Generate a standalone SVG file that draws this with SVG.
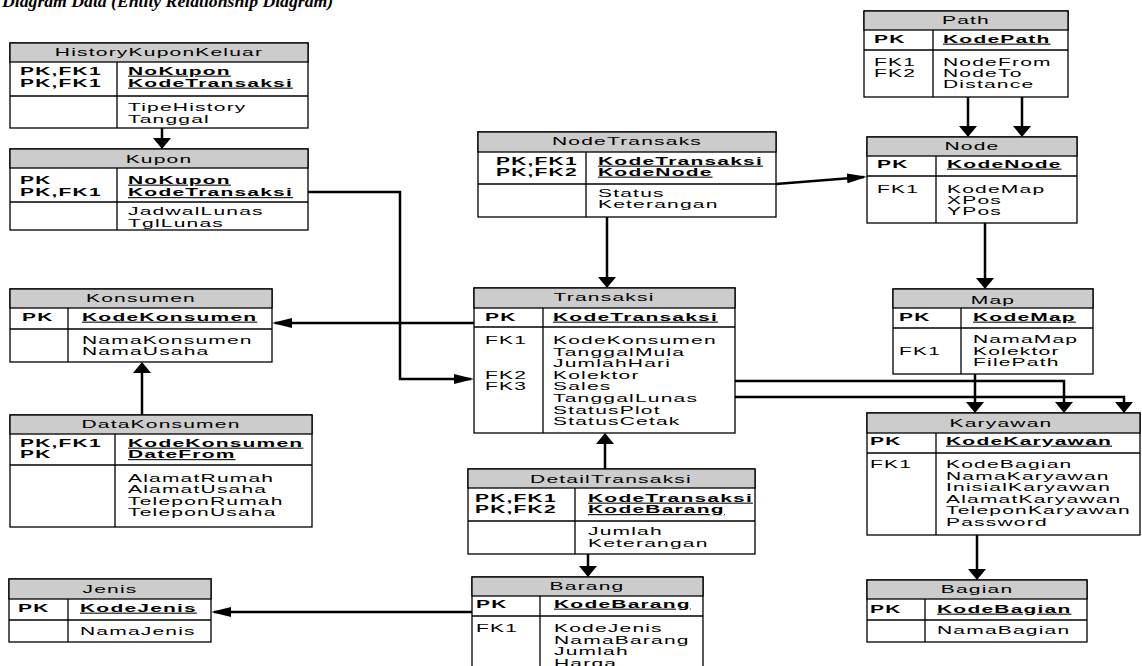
<svg xmlns="http://www.w3.org/2000/svg" width="1142" height="666" viewBox="0 0 1142 666">
<style>
.bx{fill:#fff;stroke:#000;stroke-width:1.3}
.hd{fill:#cccccc;stroke:#000;stroke-width:1.3}
.ln{stroke:#000;stroke-width:1.3;fill:none}
.t{font-family:"Liberation Sans",Arial,sans-serif;font-size:10.5px;letter-spacing:0.6px;fill:#000}
.b{font-weight:bold}
.u{font-weight:bold;text-decoration:underline}
.c{text-anchor:middle}
.cn{fill:none;stroke:#000;stroke-width:2.5}
.cv{marker-end:url(#av)}
.ch{marker-end:url(#ah)}
.title{font-family:"Liberation Serif","Times New Roman",serif;font-weight:bold;font-style:italic;font-size:17.7px;fill:#000}
</style>
<defs>
<marker id="av" markerUnits="userSpaceOnUse" markerWidth="11" markerHeight="18" refX="8" refY="9" orient="auto"><path d="M0,0 L11,9 L0,18 z" fill="#000"/></marker>
<marker id="ah" markerUnits="userSpaceOnUse" markerWidth="20" markerHeight="10" refX="17" refY="5" orient="auto"><path d="M0,0 L20,5 L0,10 z" fill="#000"/></marker>
</defs>
<rect width="1142" height="666" fill="#fff"/>
<text class="title" x="2" y="7">Diagram Data (Entity Relationship Diagram)</text>

<g id="connectors">
<path class="cn cv" d="M162,128 V146"/>
<path class="cn ch" d="M308,192 H400 V379 H471"/>
<path class="cn ch" d="M474,323 H275"/>
<path class="cn cv" d="M142,415 V365"/>
<path class="cn cv" d="M607,217 V285"/>
<path class="cn ch" d="M776,184 L864,177"/>
<path class="cn cv" d="M968,97 V134"/>
<path class="cn cv" d="M1022,97 V134"/>
<path class="cn cv" d="M985,223 V286"/>
<path class="cn cv" d="M975,374 V410"/>
<path class="cn cv" d="M735,381 H1064 V410"/>
<path class="cn cv" d="M735,397 H1124 V410"/>
<path class="cn cv" d="M977,535 V577"/>
<path class="cn cv" d="M605,469 V436"/>
<path class="cn cv" d="M588,554 V574"/>
<path class="cn ch" d="M472,612 H214"/>
</g>

<g id="HistoryKuponKeluar">
<rect class="bx" x="10" y="43" width="298" height="85"/>
<rect class="hd" x="10" y="43" width="298" height="19"/>
<line class="ln" x1="10" y1="96" x2="308" y2="96"/>
<line class="ln" x1="117" y1="62" x2="117" y2="128"/>
<text class="t c" transform="matrix(2 0 0 1 159 56)">HistoryKuponKeluar</text>
<text class="t b" transform="matrix(2 0 0 1 20 75)">PK,FK1<tspan x="0" dy="12">PK,FK1</tspan></text>
<text class="t u" transform="matrix(2 0 0 1 128 75)">NoKupon<tspan x="0" dy="12">KodeTransaksi</tspan></text>
<text class="t" transform="matrix(2 0 0 1 128 111)">TipeHistory<tspan x="0" dy="12">Tanggal</tspan></text>
</g>

<g id="Kupon">
<rect class="bx" x="10" y="149" width="298" height="81"/>
<rect class="hd" x="10" y="149" width="298" height="19"/>
<line class="ln" x1="10" y1="202" x2="308" y2="202"/>
<line class="ln" x1="117" y1="168" x2="117" y2="230"/>
<text class="t c" transform="matrix(2 0 0 1 159 163)">Kupon</text>
<text class="t b" transform="matrix(2 0 0 1 20 184)">PK<tspan x="0" dy="12.5">PK,FK1</tspan></text>
<text class="t u" transform="matrix(2 0 0 1 128 184)">NoKupon<tspan x="0" dy="12.5">KodeTransaksi</tspan></text>
<text class="t" transform="matrix(2 0 0 1 128 215)">JadwalLunas<tspan x="0" dy="11.7">TglLunas</tspan></text>
</g>

<g id="NodeTransaks">
<rect class="bx" x="478" y="132" width="298" height="85"/>
<rect class="hd" x="478" y="132" width="298" height="20"/>
<line class="ln" x1="478" y1="184" x2="776" y2="184"/>
<line class="ln" x1="586" y1="152" x2="586" y2="217"/>
<text class="t c" transform="matrix(2 0 0 1 627 145)">NodeTransaks</text>
<text class="t b" transform="matrix(2 0 0 1 496 165)">PK,FK1<tspan x="0" dy="11">PK,FK2</tspan></text>
<text class="t u" transform="matrix(2 0 0 1 598 165)">KodeTransaksi<tspan x="0" dy="11">KodeNode</tspan></text>
<text class="t" transform="matrix(2 0 0 1 598 197)">Status<tspan x="0" dy="11.5">Keterangan</tspan></text>
</g>

<g id="Path">
<rect class="bx" x="864" y="11" width="204" height="86"/>
<rect class="hd" x="864" y="11" width="204" height="19"/>
<line class="ln" x1="864" y1="50" x2="1068" y2="50"/>
<line class="ln" x1="933" y1="30" x2="933" y2="97"/>
<text class="t c" transform="matrix(2 0 0 1 966 24)">Path</text>
<text class="t b" transform="matrix(2 0 0 1 874 43)">PK</text>
<text class="t u" transform="matrix(2 0 0 1 943 43)">KodePath</text>
<text class="t" transform="matrix(2 0 0 1 874 66)">FK1<tspan x="0" dy="11">FK2</tspan></text>
<text class="t" transform="matrix(2 0 0 1 943 66)">NodeFrom<tspan x="0" dy="11">NodeTo</tspan><tspan x="0" dy="11">Distance</tspan></text>
</g>

<g id="Node">
<rect class="bx" x="867" y="137" width="210" height="86"/>
<rect class="hd" x="867" y="137" width="210" height="19"/>
<line class="ln" x1="867" y1="176" x2="1077" y2="176"/>
<line class="ln" x1="936" y1="156" x2="936" y2="223"/>
<text class="t c" transform="matrix(2 0 0 1 972 150)">Node</text>
<text class="t b" transform="matrix(2 0 0 1 877 168)">PK</text>
<text class="t u" transform="matrix(2 0 0 1 947 168)">KodeNode</text>
<text class="t" transform="matrix(2 0 0 1 877 193)">FK1</text>
<text class="t" transform="matrix(2 0 0 1 947 193)">KodeMap<tspan x="0" dy="11">XPos</tspan><tspan x="0" dy="11">YPos</tspan></text>
</g>

<g id="Map">
<rect class="bx" x="893" y="289" width="200" height="85"/>
<rect class="hd" x="893" y="289" width="200" height="19"/>
<line class="ln" x1="893" y1="328" x2="1093" y2="328"/>
<line class="ln" x1="961" y1="308" x2="961" y2="374"/>
<text class="t c" transform="matrix(2 0 0 1 993 304)">Map</text>
<text class="t b" transform="matrix(2 0 0 1 899 321)">PK</text>
<text class="t u" transform="matrix(2 0 0 1 973 321)">KodeMap</text>
<text class="t" transform="matrix(2 0 0 1 899 355)">FK1</text>
<text class="t" transform="matrix(2 0 0 1 973 343)">NamaMap<tspan x="0" dy="11.7">Kolektor</tspan><tspan x="0" dy="11.7">FilePath</tspan></text>
</g>

<g id="Konsumen">
<rect class="bx" x="10" y="289" width="262" height="73"/>
<rect class="hd" x="10" y="289" width="262" height="19"/>
<line class="ln" x1="10" y1="329" x2="272" y2="329"/>
<line class="ln" x1="68" y1="308" x2="68" y2="362"/>
<text class="t c" transform="matrix(2 0 0 1 141 302)">Konsumen</text>
<text class="t b" transform="matrix(2 0 0 1 22 321)">PK</text>
<text class="t u" transform="matrix(2 0 0 1 82 321)">KodeKonsumen</text>
<text class="t" transform="matrix(2 0 0 1 82 344)">NamaKonsumen<tspan x="0" dy="11.5">NamaUsaha</tspan></text>
</g>

<g id="DataKonsumen">
<rect class="bx" x="10" y="415" width="302" height="112"/>
<rect class="hd" x="10" y="415" width="302" height="19"/>
<line class="ln" x1="10" y1="465" x2="312" y2="465"/>
<line class="ln" x1="115" y1="434" x2="115" y2="527"/>
<text class="t c" transform="matrix(2 0 0 1 161 428)">DataKonsumen</text>
<text class="t b" transform="matrix(2 0 0 1 20 447)">PK,FK1<tspan x="0" dy="11.5">PK</tspan></text>
<text class="t u" transform="matrix(2 0 0 1 128 447)">KodeKonsumen<tspan x="0" dy="11.5">DateFrom</tspan></text>
<text class="t" transform="matrix(2 0 0 1 128 482)">AlamatRumah<tspan x="0" dy="11.4">AlamatUsaha</tspan><tspan x="0" dy="11.4">TeleponRumah</tspan><tspan x="0" dy="11.4">TeleponUsaha</tspan></text>
</g>

<g id="Transaksi">
<rect class="bx" x="474" y="288" width="261" height="145"/>
<rect class="hd" x="474" y="288" width="261" height="20"/>
<line class="ln" x1="474" y1="327" x2="735" y2="327"/>
<line class="ln" x1="543" y1="308" x2="543" y2="433"/>
<text class="t c" transform="matrix(2 0 0 1 604 301)">Transaksi</text>
<text class="t b" transform="matrix(2 0 0 1 485 321)">PK</text>
<text class="t u" transform="matrix(2 0 0 1 553 321)">KodeTransaksi</text>
<text class="t" transform="matrix(2 0 0 1 485 344)">FK1<tspan x="0" dy="34.8">FK2</tspan><tspan x="0" dy="11.6">FK3</tspan></text>
<text class="t" transform="matrix(2 0 0 1 553 344)">KodeKonsumen<tspan x="0" dy="11.6">TanggalMula</tspan><tspan x="0" dy="11.6">JumlahHari</tspan><tspan x="0" dy="11.6">Kolektor</tspan><tspan x="0" dy="11.6">Sales</tspan><tspan x="0" dy="11.6">TanggalLunas</tspan><tspan x="0" dy="11.6">StatusPlot</tspan><tspan x="0" dy="11.6">StatusCetak</tspan></text>
</g>

<g id="Karyawan">
<rect class="bx" x="867" y="413" width="273" height="122"/>
<rect class="hd" x="867" y="413" width="273" height="20"/>
<line class="ln" x1="867" y1="453" x2="1140" y2="453"/>
<line class="ln" x1="936" y1="433" x2="936" y2="535"/>
<text class="t c" transform="matrix(2 0 0 1 1001 427)">Karyawan</text>
<text class="t b" transform="matrix(2 0 0 1 870 445)">PK</text>
<text class="t u" transform="matrix(2 0 0 1 946 445)">KodeKaryawan</text>
<text class="t" transform="matrix(2 0 0 1 870 468)">FK1</text>
<text class="t" transform="matrix(2 0 0 1 946 468)">KodeBagian<tspan x="0" dy="11.6">NamaKaryawan</tspan><tspan x="0" dy="11.6">InisialKaryawan</tspan><tspan x="0" dy="11.6">AlamatKaryawan</tspan><tspan x="0" dy="11.6">TeleponKaryawan</tspan><tspan x="0" dy="11.6">Password</tspan></text>
</g>

<g id="Bagian">
<rect class="bx" x="867" y="580" width="220" height="62"/>
<rect class="hd" x="867" y="580" width="220" height="19"/>
<line class="ln" x1="867" y1="620" x2="1087" y2="620"/>
<line class="ln" x1="925" y1="599" x2="925" y2="642"/>
<text class="t c" transform="matrix(2 0 0 1 977 593)">Bagian</text>
<text class="t b" transform="matrix(2 0 0 1 870 613)">PK</text>
<text class="t u" transform="matrix(2 0 0 1 937 613)">KodeBagian</text>
<text class="t" transform="matrix(2 0 0 1 937 634)">NamaBagian</text>
</g>

<g id="DetailTransaksi">
<rect class="bx" x="468" y="469" width="287" height="85"/>
<rect class="hd" x="468" y="469" width="287" height="19"/>
<line class="ln" x1="468" y1="521" x2="755" y2="521"/>
<line class="ln" x1="575" y1="488" x2="575" y2="554"/>
<text class="t c" transform="matrix(2 0 0 1 611 483)">DetailTransaksi</text>
<text class="t b" transform="matrix(2 0 0 1 475 502)">PK,FK1<tspan x="0" dy="11.5">PK,FK2</tspan></text>
<text class="t u" transform="matrix(2 0 0 1 588 502)">KodeTransaksi<tspan x="0" dy="11.5">KodeBarang</tspan></text>
<text class="t" transform="matrix(2 0 0 1 588 535)">Jumlah<tspan x="0" dy="12">Keterangan</tspan></text>
</g>

<g id="Barang">
<rect class="bx" x="472" y="577" width="231" height="100"/>
<rect class="hd" x="472" y="577" width="231" height="19"/>
<line class="ln" x1="472" y1="616" x2="703" y2="616"/>
<line class="ln" x1="540" y1="596" x2="540" y2="677"/>
<text class="t c" transform="matrix(2 0 0 1 587 590)">Barang</text>
<text class="t b" transform="matrix(2 0 0 1 476 608)">PK</text>
<text class="t u" transform="matrix(2 0 0 1 554 608)">KodeBarang</text>
<text class="t" transform="matrix(2 0 0 1 476 632)">FK1</text>
<text class="t" transform="matrix(2 0 0 1 554 632)">KodeJenis<tspan x="0" dy="11.6">NamaBarang</tspan><tspan x="0" dy="11.6">Jumlah</tspan><tspan x="0" dy="11.6">Harga</tspan></text>
</g>

<g id="Jenis">
<rect class="bx" x="9" y="579" width="202" height="63"/>
<rect class="hd" x="9" y="579" width="202" height="20"/>
<line class="ln" x1="9" y1="620" x2="211" y2="620"/>
<line class="ln" x1="68" y1="599" x2="68" y2="642"/>
<text class="t c" transform="matrix(2 0 0 1 110 593)">Jenis</text>
<text class="t b" transform="matrix(2 0 0 1 18 612)">PK</text>
<text class="t u" transform="matrix(2 0 0 1 80 612)">KodeJenis</text>
<text class="t" transform="matrix(2 0 0 1 80 635)">NamaJenis</text>
</g>
</svg>
